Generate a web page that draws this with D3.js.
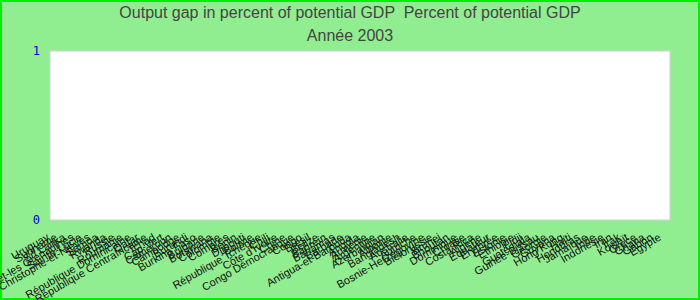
<!DOCTYPE html>
<html>
<head>
<meta charset="utf-8">
<script src="https://cdn.jsdelivr.net/npm/d3@7"></script>
<style>
  body { margin: 0; background: #fff; }
</style>
</head>
<body>
<script>

const pays = ['Uruguay','Suriname','Sri Lanka','Saint-Vincent-et-les Grenadines','Sainte-Lucie',
  'Saint-Christophe-et-Niévès','Samoa','Rwanda','Russie','Roumanie','République Dominicaine','Qatar',
  'République Centrafricaine','Tchad','Cap-Vert','Cameroun','Cambodge','Burundi','Burkina Faso','Bulgarie',
  'Botswana','Colombie','Comores','Bénin','Djibouti','Bolivie','République Tchèque','Chili',"Côte d'Ivoire",
  'Chine','Congo Démocratique','Congo','Brésil','Belize','Bahreïn','Bahamas','Barbade','Antigua-et-Barbuda',
  'Angola','Arménie','Argentine','Azerbaïdjan','Albanie','Bangladesh','Australie','Autriche',
  'Bosnie-Herzégovine','Biélorussie','Brunei','Bhoutan','Dominique','Croatie','Costa Rica','Algérie','Équateur',
  'Érythrée','Estonie','Éthiopie','Fidji','Guatemala','Guinée-Bissau','Géorgie','Guyana','Hong Kong','Haïti',
  'Honduras','Jamaïque','Inde','Indonésie','Iran','Irak','Koweït','Grèce','Ghana','Gabon','Égypte'];

// ecart de production, annee 2003 : aucune valeur affichee
const valeurs = [0,0,0,0,0,0,0,0,0,0,0,0,0,0,0,0,0,0,0,0,0,0,0,0,0,0,0,0,0,0,0,0,0,0,0,0,0,0,
  0,0,0,0,0,0,0,0,0,0,0,0,0,0,0,0,0,0,0,0,0,0,0,0,0,0,0,0,0,0,0,0,0,0,0,0,0,0];

const yTicks = [0, 1];

const titre = 'Output gap in percent of potential GDP  Percent of potential GDP';
const sousTitre = 'Année 2003';

const W = 700, H = 300;
const margin = {top: 51, right: 30, bottom: 80, left: 50};

const svg = d3.select('body').append('svg')
    .attr('width', W)
    .attr('height', H);

// fond vert et bordure
svg.append('rect')
    .attr('x', 1).attr('y', 1)
    .attr('width', W - 2).attr('height', H - 2)
    .attr('fill', '#90ee90')
    .attr('stroke', '#00ee00')
    .attr('stroke-width', 2);

svg.append('text')
    .attr('x', W / 2).attr('y', 18)
    .attr('text-anchor', 'middle')
    .attr('font-family', 'Liberation Sans Narrow, Liberation Sans, Arial, sans-serif')
    .attr('font-size', 16)
    .attr('fill', '#444')
    .style('white-space', 'pre')
    .text(titre);

svg.append('text')
    .attr('x', W / 2).attr('y', 41)
    .attr('text-anchor', 'middle')
    .attr('font-family', 'Liberation Sans Narrow, Liberation Sans, Arial, sans-serif')
    .attr('font-size', 16)
    .attr('fill', '#444')
    .text(sousTitre);

const x = d3.scaleBand()
    .domain(pays)
    .range([margin.left, W - margin.right]);

const y = d3.scaleLinear()
    .domain([0, 1])
    .range([H - margin.bottom, margin.top]);

// zone du graphique
svg.append('rect')
    .attr('x', margin.left)
    .attr('y', margin.top)
    .attr('width', W - margin.left - margin.right)
    .attr('height', H - margin.top - margin.bottom)
    .attr('fill', 'white')
    .attr('stroke', '#d0d0d0');

// barres (hauteur nulle)
svg.append('g').selectAll('rect')
    .data(valeurs)
    .enter().append('rect')
    .attr('x', (d, i) => x(pays[i]) + 1)
    .attr('width', x.bandwidth() - 2)
    .attr('y', d => y(Math.max(0, d)))
    .attr('height', d => Math.abs(y(d) - y(0)))
    .attr('fill', '#4682b4');

// axe y
const yAxis = svg.append('g')
    .attr('transform', 'translate(' + margin.left + ',0)')
    .call(d3.axisLeft(y).tickValues(yTicks).tickFormat(d3.format('d')).tickSize(0).tickPadding(10));
yAxis.select('.domain').remove();
yAxis.selectAll('text')
    .attr('font-family', 'DejaVu Sans Mono, monospace')
    .attr('font-size', 12)
    .attr('fill', '#0000cc');

// axe x
const xAxis = svg.append('g')
    .attr('transform', 'translate(0,' + (H - margin.bottom) + ')')
    .call(d3.axisBottom(x).tickSize(0));
xAxis.select('.domain').remove();
xAxis.selectAll('text')
    .attr('font-family', 'Liberation Sans, Arial, sans-serif')
    .attr('font-size', 11)
    .attr('fill', '#111')
    .attr('text-anchor', 'end')
    .attr('y', 0)
    .attr('dy', '0.35em')
    .attr('transform', 'translate(-6,16) rotate(-30)');

</script>
</body>
</html>
